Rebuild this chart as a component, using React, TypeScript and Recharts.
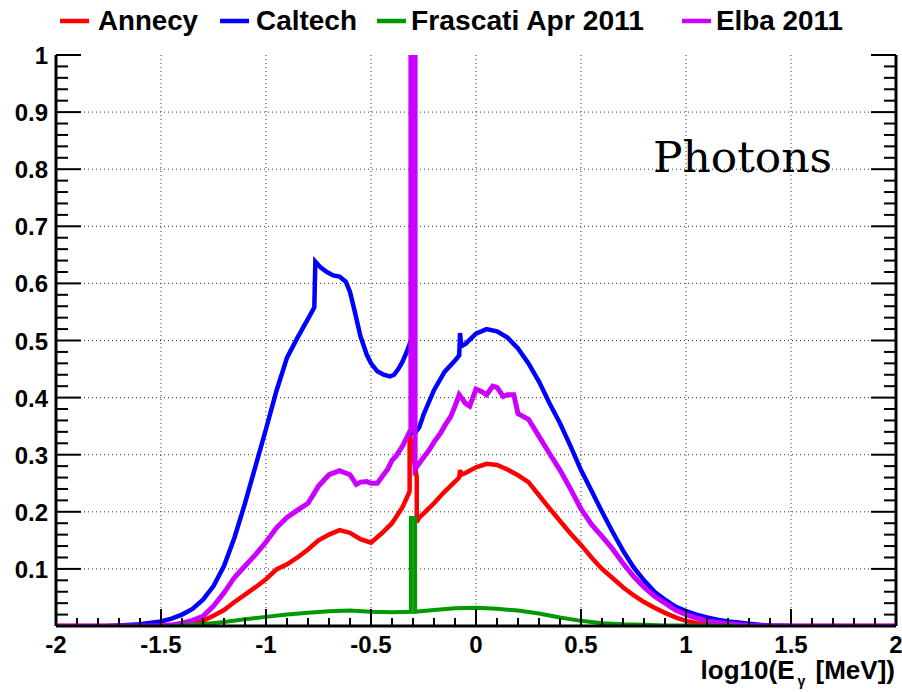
import React from "react";
import { LineChart, Line, XAxis, YAxis, CartesianGrid } from "recharts";

// ---- data ----
const xMajorTicks = [-2, -1.5, -1, -0.5, 0, 0.5, 1, 1.5, 2];
const yMajorTicks = [0, 0.1, 0.2, 0.3, 0.4, 0.5, 0.6, 0.7, 0.8, 0.9, 1];

const annecyX = [-2, -1.5, -1.4, -1.35, -1.3, -1.25, -1.2, -1.15, -1.1, -1.05, -1.0, -0.95, -0.9, -0.85, -0.8, -0.75, -0.7, -0.65, -0.6, -0.55, -0.5, -0.45, -0.4, -0.35, -0.32, -0.316, -0.316, -0.282, -0.282, -0.27, -0.25, -0.2, -0.15, -0.1, -0.08, -0.076, -0.07, -0.05, 0, 0.05, 0.1, 0.15, 0.2, 0.25, 0.3, 0.35, 0.4, 0.45, 0.5, 0.55, 0.6, 0.65, 0.7, 0.75, 0.8, 0.85, 0.9, 0.95, 1.0, 1.05, 1.1, 1.15, 1.2, 2.0];
const annecyY = [0, 0, 0.002, 0.005, 0.009, 0.018, 0.028, 0.042, 0.055, 0.068, 0.082, 0.099, 0.108, 0.12, 0.134, 0.15, 0.16, 0.168, 0.163, 0.152, 0.146, 0.162, 0.18, 0.208, 0.232, 0.237, 0.337, 0.26, 0.182, 0.19, 0.197, 0.215, 0.235, 0.253, 0.26, 0.273, 0.265, 0.268, 0.278, 0.284, 0.282, 0.274, 0.264, 0.252, 0.229, 0.206, 0.184, 0.162, 0.142, 0.12, 0.1, 0.084, 0.068, 0.054, 0.042, 0.032, 0.023, 0.015, 0.009, 0.005, 0.003, 0.001, 0, 0];

const caltechX = [-1.75, -1.7, -1.6, -1.5, -1.45, -1.4, -1.35, -1.3, -1.25, -1.2, -1.15, -1.1, -1.05, -1.0, -0.95, -0.9, -0.85, -0.8, -0.77, -0.765, -0.74, -0.71, -0.68, -0.65, -0.62, -0.6, -0.58, -0.55, -0.52, -0.5, -0.47, -0.44, -0.41, -0.39, -0.37, -0.35, -0.33, -0.31, -0.3, -0.3, -0.29, -0.27, -0.25, -0.2, -0.15, -0.1, -0.08, -0.076, -0.07, -0.05, 0, 0.05, 0.1, 0.15, 0.2, 0.25, 0.3, 0.35, 0.4, 0.45, 0.5, 0.55, 0.6, 0.65, 0.7, 0.75, 0.8, 0.85, 0.9, 0.95, 1.0, 1.05, 1.1, 1.15, 1.2, 1.25, 1.3, 1.35, 1.4, 1.5];
const caltechY = [0, 0.001, 0.003, 0.008, 0.013, 0.02, 0.03, 0.046, 0.07, 0.105, 0.155, 0.215, 0.28, 0.345, 0.412, 0.47, 0.505, 0.538, 0.558, 0.638, 0.628, 0.62, 0.614, 0.612, 0.603, 0.585, 0.555, 0.507, 0.475, 0.46, 0.446, 0.44, 0.437, 0.44, 0.45, 0.463, 0.48, 0.5, 0.5, 0.338, 0.338, 0.348, 0.37, 0.413, 0.445, 0.465, 0.474, 0.513, 0.49, 0.494, 0.512, 0.52, 0.516, 0.505, 0.486, 0.46, 0.428, 0.39, 0.355, 0.315, 0.273, 0.237, 0.2, 0.165, 0.132, 0.103, 0.08, 0.06, 0.046, 0.034, 0.026, 0.02, 0.015, 0.011, 0.008, 0.006, 0.004, 0.002, 0.001, 0];

const elbaX = [-2, -1.5, -1.45, -1.4, -1.35, -1.3, -1.25, -1.2, -1.15, -1.1, -1.05, -1.0, -0.95, -0.9, -0.85, -0.8, -0.75, -0.7, -0.65, -0.6, -0.57, -0.55, -0.52, -0.5, -0.47, -0.45, -0.42, -0.4, -0.38, -0.35, -0.33, -0.31, -0.31, -0.29, -0.29, -0.27, -0.25, -0.22, -0.2, -0.17, -0.15, -0.12, -0.1, -0.08, -0.05, -0.03, 0, 0.03, 0.05, 0.08, 0.1, 0.13, 0.15, 0.18, 0.2, 0.25, 0.3, 0.35, 0.4, 0.45, 0.5, 0.55, 0.6, 0.65, 0.7, 0.75, 0.8, 0.85, 0.9, 0.95, 1.0, 1.05, 1.1, 1.15, 1.2, 1.25, 1.3, 1.4, 2.0];
const elbaY = [0, 0, 0.002, 0.005, 0.01, 0.017, 0.035, 0.058, 0.085, 0.105, 0.125, 0.147, 0.172, 0.19, 0.203, 0.215, 0.245, 0.265, 0.272, 0.265, 0.248, 0.252, 0.253, 0.25, 0.25, 0.26, 0.275, 0.29, 0.298, 0.315, 0.33, 0.345, 1.1, 1.1, 0.275, 0.285, 0.295, 0.31, 0.322, 0.337, 0.35, 0.367, 0.385, 0.405, 0.39, 0.385, 0.415, 0.41, 0.405, 0.42, 0.418, 0.402, 0.405, 0.405, 0.372, 0.362, 0.332, 0.302, 0.273, 0.24, 0.205, 0.178, 0.157, 0.135, 0.11, 0.087, 0.068, 0.052, 0.04, 0.028, 0.02, 0.014, 0.009, 0.006, 0.004, 0.002, 0.001, 0, 0];

const frascatiX = [-1.45, -1.4, -1.3, -1.2, -1.1, -1.0, -0.9, -0.8, -0.7, -0.6, -0.5, -0.4, -0.31, -0.31, -0.29, -0.29, -0.2, -0.1, 0, 0.1, 0.2, 0.3, 0.4, 0.5, 0.6, 0.7, 0.8, 0.9, 1.0, 1.25];
const frascatiY = [0, 0.001, 0.003, 0.007, 0.012, 0.016, 0.02, 0.023, 0.026, 0.027, 0.025, 0.024, 0.025, 0.189, 0.189, 0.025, 0.028, 0.031, 0.032, 0.03, 0.027, 0.022, 0.015, 0.009, 0.005, 0.003, 0.002, 0.001, 0.001, 0];

const seriesNames = ["Annecy", "Caltech", "Frascati Apr 2011", "Elba 2011"];
const seriesColors = ["#ff0000", "#0000ff", "#009900", "#cc00ff"];

const zip = (xs: number[], ys: number[]) => xs.map((x, i) => ({ x, y: ys[i] }));
const annecyData = zip(annecyX, annecyY);
const caltechData = zip(caltechX, caltechY);
const elbaData = zip(elbaX, elbaY);
const frascatiData = zip(frascatiX, frascatiY);

// minor ticks: 5 divisions between major ticks
const withMinor = (majors: number[]) => {
  const out: number[] = [];
  for (let i = 0; i < majors.length - 1; i++) {
    const a = majors[i], b = majors[i + 1];
    for (let k = 0; k < 5; k++) out.push(+(a + ((b - a) * k) / 5).toFixed(4));
  }
  out.push(majors[majors.length - 1]);
  return out;
};
const xTicks = withMinor(xMajorTicks);
const yTicks = withMinor(yMajorTicks);

// ---- layout ----
const W = 902, H = 692;
const PL = 56, PT = 55, PR = 896, PB = 626;
const FONT = "'Liberation Sans', Arial, Helvetica, sans-serif";

const isMajor = (v: number, majors: number[]) => majors.some((m) => Math.abs(m - v) < 1e-6);
const fmt = (v: number) => String(Math.round(v * 10) / 10);

const YTickLeft = (props: any) => {
  const c = props.payload?.coordinate ?? props.y;
  const v = props.payload.value;
  const major = isMajor(v, yMajorTicks);
  return (
    <g>
      <line x1={PL} x2={PL + (major ? 25 : 12)} y1={c} y2={c} stroke="#000" strokeWidth={2} />
      {major && v > 0 ? (
        <text x={PL - 8} y={c + 9} textAnchor="end" fontFamily={FONT} fontWeight="bold" fontSize={24} fill="#000">
          {fmt(v)}
        </text>
      ) : null}
    </g>
  );
};
const YTickRight = (props: any) => {
  const c = props.payload?.coordinate ?? props.y;
  const major = isMajor(props.payload.value, yMajorTicks);
  return <line x1={PR} x2={PR - (major ? 25 : 12)} y1={c} y2={c} stroke="#000" strokeWidth={2} />;
};
const XTickBottom = (props: any) => {
  const c = props.payload?.coordinate ?? props.x;
  const v = props.payload.value;
  const major = isMajor(v, xMajorTicks);
  return (
    <g>
      <line x1={c} x2={c} y1={PB} y2={PB - (major ? 17 : 8)} stroke="#000" strokeWidth={2} />
      {major ? (
        <text x={c} y={PB + 27} textAnchor="middle" fontFamily={FONT} fontWeight="bold" fontSize={24} fill="#000">
          {fmt(v)}
        </text>
      ) : null}
    </g>
  );
};
const XTickTop = (props: any) => {
  const c = props.payload?.coordinate ?? props.x;
  const major = isMajor(props.payload.value, xMajorTicks);
  return <line x1={c} x2={c} y1={PT} y2={PT + (major ? 17 : 8)} stroke="#000" strokeWidth={2} />;
};

const legendPos = [
  { dash: 60, text: 98, width: 100 },
  { dash: 220, text: 256, width: 101 },
  { dash: 377, text: 411, width: 233 },
  { dash: 682, text: 716, width: 127 },
];

export default function App() {
  return (
    <div style={{ position: "absolute", left: 0, top: 0, width: W, height: H, background: "#fff" }}>
      <LineChart width={W} height={H} data={annecyData} margin={{ top: PT, right: 0, bottom: 0, left: 0 }}>
        <CartesianGrid
          xAxisId="b"
          yAxisId="l"
          stroke="#333"
          strokeDasharray="1 3"
          horizontalValues={yMajorTicks.slice(1, -1)}
          verticalValues={xMajorTicks.slice(1, -1)}
        />
        <XAxis
          xAxisId="b"
          dataKey="x"
          type="number"
          domain={[-2, 2]}
          ticks={xTicks}
          interval={0}
          height={H - PB}
          tickLine={false}
          tick={XTickBottom}
          axisLine={{ stroke: "#000", strokeWidth: 3 }}
          allowDataOverflow
        />
        <XAxis
          xAxisId="t"
          orientation="top"
          dataKey="x"
          type="number"
          domain={[-2, 2]}
          ticks={xTicks}
          interval={0}
          height={0}
          tickLine={false}
          tick={XTickTop}
          axisLine={{ stroke: "#000", strokeWidth: 3 }}
          allowDataOverflow
        />
        <YAxis
          yAxisId="l"
          type="number"
          domain={[0, 1]}
          ticks={yTicks}
          interval={0}
          width={PL}
          tickLine={false}
          tick={YTickLeft}
          axisLine={{ stroke: "#000", strokeWidth: 3 }}
          allowDataOverflow
        />
        <YAxis
          yAxisId="r"
          orientation="right"
          type="number"
          domain={[0, 1]}
          ticks={yTicks}
          interval={0}
          width={W - PR}
          tickLine={false}
          tick={YTickRight}
          axisLine={{ stroke: "#000", strokeWidth: 3 }}
          allowDataOverflow
        />
        <Line xAxisId="b" yAxisId="l" data={annecyData} dataKey="y" type="linear" stroke={seriesColors[0]} strokeWidth={4.5} dot={false} activeDot={false} isAnimationActive={false} />
        <Line xAxisId="b" yAxisId="l" data={caltechData} dataKey="y" type="linear" stroke={seriesColors[1]} strokeWidth={4.5} dot={false} activeDot={false} isAnimationActive={false} />
        <Line xAxisId="b" yAxisId="l" data={elbaData} dataKey="y" type="linear" stroke={seriesColors[3]} strokeWidth={5} dot={false} activeDot={false} isAnimationActive={false} />
        <Line xAxisId="b" yAxisId="l" data={frascatiData} dataKey="y" type="linear" stroke={seriesColors[2]} strokeWidth={4} dot={false} activeDot={false} isAnimationActive={false} />
      </LineChart>
      <svg width={W} height={H} style={{ position: "absolute", left: 0, top: 0, pointerEvents: "none" }}>
        {seriesNames.map((name, i) => (
          <g key={name}>
            <line x1={legendPos[i].dash} x2={legendPos[i].dash + 29} y1={21} y2={21} stroke={seriesColors[i]} strokeWidth={4.5} />
            <text
              x={legendPos[i].text}
              y={30}
              fontFamily={FONT}
              fontWeight="bold"
              fontSize={27}
              textLength={legendPos[i].width}
              lengthAdjust="spacingAndGlyphs"
              fill="#000"
            >
              {name}
            </text>
          </g>
        ))}
        <text x={653} y={172} fontFamily="'DejaVu Serif', serif" fontSize={42} textLength={179} lengthAdjust="spacingAndGlyphs" fill="#000">
          Photons
        </text>
        <text x={895} y={679} textAnchor="end" fontFamily={FONT} fontWeight="bold" fontSize={26} fill="#000">
          log10(E
          <tspan fontSize={14} dx={3} dy={7}>γ</tspan>
          <tspan dx={3} dy={-7}> [MeV])</tspan>
        </text>
      </svg>
    </div>
  );
}
